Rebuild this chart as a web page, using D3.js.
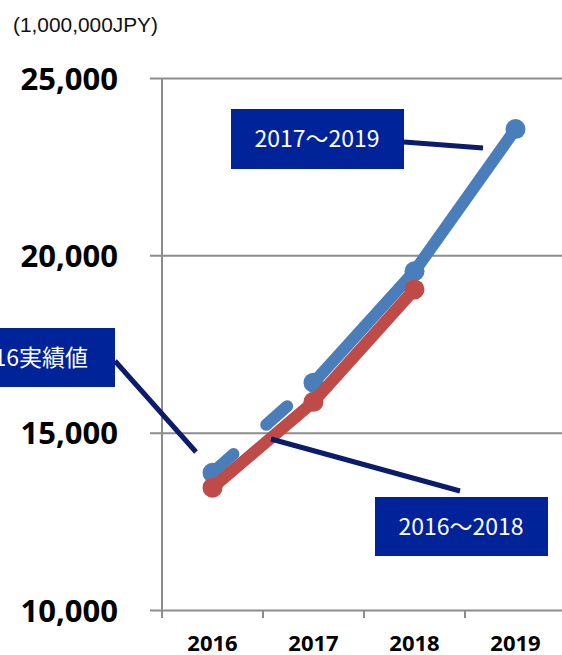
<!DOCTYPE html>
<meta charset="utf-8">
<script src="https://d3js.org/d3.v7.min.js"></script>
<style>
  body { margin: 0; background: #fff; }
  svg { display: block; }
</style>
<div id="chart"></div>
<script>

  // data
  var years = ["2016", "2017", "2018", "2019"];
  var plan1719 = [13870, 16410, 19550, 23560];   // blue, 2016 is actual
  var plan1618 = [13450, 15870, 19040, null];    // red
  var yTicks = [10000, 15000, 20000, 25000];
  var unitLabel = "(1,000,000JPY)";

  var width = 562, height = 655;

  var svg = d3.select("#chart")
    .append("svg")
      .attr("width", width)
      .attr("height", height);

  var x = d3.scaleBand()
      .domain(years)
      .range([162, 566]);
  var y = d3.scaleLinear()
      .domain([10000, 25000])
      .range([610, 78]);

  var cx = function(d) { return x(d) + x.bandwidth() / 2; };
  var grey = "#8c8c8c";

  // gridlines + y labels
  var yAxis = svg.append("g")
      .attr("transform", "translate(150,0)")
      .call(d3.axisLeft(y)
        .tickValues(yTicks)
        .tickFormat(d3.format(","))
        .tickSize(-(width - 150))
        .tickPadding(32));
  yAxis.select(".domain").remove();
  yAxis.selectAll("line").attr("stroke", grey).attr("stroke-width", 2);
  yAxis.selectAll("text")
      .attr("fill", "#000")
      .attr("font-family", "'Open Sans', sans-serif")
      .attr("font-weight", 700)
      .attr("font-size", 31)
      .attr("dy", "0.36em");

  // vertical axis line
  svg.append("line")
      .attr("x1", 162).attr("x2", 162)
      .attr("y1", y(25000)).attr("y2", y(10000) + 8)
      .attr("stroke", grey).attr("stroke-width", 2);

  // category boundary ticks
  var bounds = years.map(function(d) { return x(d); }).concat([x.range()[1]]);
  svg.selectAll(".xtick")
    .data(bounds)
    .enter().append("line")
      .attr("class", "xtick")
      .attr("x1", function(d) { return d; })
      .attr("x2", function(d) { return d; })
      .attr("y1", y(10000))
      .attr("y2", y(10000) + 8)
      .attr("stroke", grey).attr("stroke-width", 2);

  // x labels
  svg.selectAll(".xlabel")
    .data(years)
    .enter().append("text")
      .attr("class", "xlabel")
      .attr("x", cx)
      .attr("y", 651)
      .attr("text-anchor", "middle")
      .attr("font-family", "'Open Sans', sans-serif")
      .attr("font-weight", 700)
      .attr("font-size", 22)
      .text(function(d) { return d; });

  // unit
  svg.append("text")
      .attr("x", 13)
      .attr("y", 32)
      .attr("font-family", "'Liberation Sans', Arial, sans-serif")
      .attr("font-size", 21)
      .attr("textLength", 145)
      .attr("lengthAdjust", "spacingAndGlyphs")
      .attr("fill", "#111")
      .text(unitLabel);

  // series
  var blue = "#4a7ebb", red = "#be4b48";
  var line = d3.line()
      .defined(function(d) { return d.v != null; })
      .x(function(d) { return cx(d.year); })
      .y(function(d) { return y(d.v); });

  function pts(vals) {
    return years.map(function(yr, i) { return {year: yr, v: vals[i]}; });
  }

  var bluePts = pts(plan1719);
  var redPts = pts(plan1618);

  // blue: dashed first segment, solid after
  svg.append("path")
      .datum(bluePts.slice(0, 2))
      .attr("d", line)
      .attr("fill", "none")
      .attr("stroke", blue)
      .attr("stroke-width", 12)
      .attr("stroke-linecap", "round")
      .attr("stroke-dasharray", "28,44");
  svg.append("path")
      .datum(bluePts.slice(1))
      .attr("d", line)
      .attr("fill", "none")
      .attr("stroke", blue)
      .attr("stroke-width", 12)
      .attr("stroke-linejoin", "round");
  svg.selectAll(".bdot")
    .data(bluePts)
    .enter().append("circle")
      .attr("class", "bdot")
      .attr("cx", function(d) { return cx(d.year); })
      .attr("cy", function(d) { return y(d.v); })
      .attr("r", 10)
      .attr("fill", blue);

  svg.append("path")
      .datum(redPts)
      .attr("d", line)
      .attr("fill", "none")
      .attr("stroke", red)
      .attr("stroke-width", 12)
      .attr("stroke-linejoin", "round");
  svg.selectAll(".rdot")
    .data(redPts.filter(function(d) { return d.v != null; }))
    .enter().append("circle")
      .attr("class", "rdot")
      .attr("cx", function(d) { return cx(d.year); })
      .attr("cy", function(d) { return y(d.v); })
      .attr("r", 10)
      .attr("fill", red);

  // callouts
  var notes = [
    {text: "2017～2019", x: 231, y: 109, w: 173, h: 60, anchor: "middle", tx: 317, line: [404, 142, 483, 148]},
    {text: "2016～2018", x: 375, y: 497, w: 173, h: 59, anchor: "middle", tx: 461, line: [271, 439, 460, 491]},
    {text: "2016実績値", x: -60, y: 328, w: 175, h: 59, anchor: "end", tx: 88, line: [115, 361, 196, 452]}
  ];

  svg.selectAll(".conn")
    .data(notes)
    .enter().append("line")
      .attr("class", "conn")
      .attr("x1", function(d) { return d.line[0]; })
      .attr("y1", function(d) { return d.line[1]; })
      .attr("x2", function(d) { return d.line[2]; })
      .attr("y2", function(d) { return d.line[3]; })
      .attr("stroke", "#0b1c6b")
      .attr("stroke-width", 5);

  var g = svg.selectAll(".note")
    .data(notes)
    .enter().append("g")
      .attr("class", "note");
  g.append("rect")
      .attr("x", function(d) { return d.x; })
      .attr("y", function(d) { return d.y; })
      .attr("width", function(d) { return d.w; })
      .attr("height", function(d) { return d.h; })
      .attr("fill", "#00239a");
  g.append("text")
      .attr("x", function(d) { return d.tx; })
      .attr("y", function(d) { return d.y + d.h / 2; })
      .attr("dy", "0.36em")
      .attr("text-anchor", function(d) { return d.anchor; })
      .attr("fill", "#fff")
      .attr("font-family", "'Noto Sans CJK JP', 'Noto Sans', sans-serif")
      .attr("font-size", 23)
      .text(function(d) { return d.text; });

</script>
